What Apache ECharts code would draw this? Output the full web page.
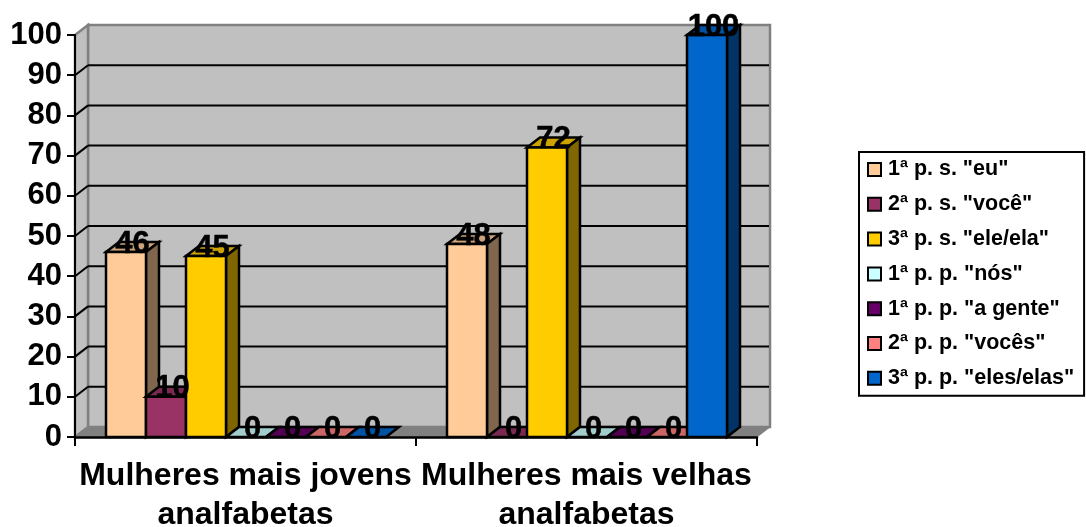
<!DOCTYPE html>
<html><head><meta charset="utf-8">
<style>html,body{margin:0;padding:0;background:#fff}#c{width:1086px;height:527px}</style>
<script src="https://cdn.jsdelivr.net/npm/echarts@6/dist/echarts.min.js"></script>
</head><body><div id="c"></div>
<script>
const categories = ['Mulheres mais jovens\nanalfabetas', 'Mulheres mais velhas\nanalfabetas'];
const seriesNames = ['1ª p. s. "eu"', '2ª p. s. "você"', '3ª p. s. "ele/ela"', '1ª p. p. "nós"', '1ª p. p. "a gente"', '2ª p. p. "vocês"', '3ª p. p. "eles/elas"'];
const eu = [46, 48];
const voce = [10, 0];
const eleEla = [45, 72];
const nos = [0, 0];
const aGente = [0, 0];
const voces = [0, 0];
const elesElas = [0, 100];
const seriesValues = [eu, voce, eleEla, nos, aGente, voces, elesElas];
const colors = ['#FFCC99', '#993366', '#FFCC00', '#CCFFFF', '#660066', '#FF8080', '#0066CC'];
const yTicks = [10, 20, 30, 40, 50, 60, 70, 80, 90];

const DX = 13, DY = -10, BAR_FRAC = 40 / 341, FONT = '"Liberation Sans", Arial, sans-serif';
function shade(hex, f) {
  const n = parseInt(hex.slice(1), 16);
  const c = [n >> 16 & 255, n >> 8 & 255, n & 255].map(v => Math.round(v * f));
  return `rgb(${c.join(',')})`;
}
function poly(points, fill, stroke, w) {
  return { type: 'polygon', shape: { points }, style: { fill, stroke, lineWidth: w, lineJoin: 'miter' } };
}
function line(a, b, stroke, w) {
  return { type: 'line', shape: { x1: a[0], y1: a[1], x2: b[0], y2: b[1] }, style: { stroke, lineWidth: w } };
}
function wallsItem(params, api) {
  const g = params.coordSys, L = g.x, R = g.x + g.width, T = g.y, B = g.y + g.height;
  const children = [
    poly([[L + DX, T + DY], [R + DX, T + DY], [R + DX, B + DY], [L + DX, B + DY]], '#C0C0C0', '#808080', 2.5),
    poly([[L, T], [L + DX, T + DY], [L + DX, B + DY], [L, B]], '#C0C0C0', '#808080', 2.5),
    poly([[L, B], [L + DX, B + DY], [R + DX, B + DY], [R, B]], '#808080', '#808080', 1)
  ];
  yTicks.forEach(v => {
    const y = api.coord([0, v])[1];
    children.push(line([L, y], [L + DX, y + DY], '#000', 2));
    children.push(line([L + DX, y + DY], [R + DX - 1, y + DY], '#000', 2));
  });
  return { type: 'group', children };
}
function barItem(si) {
  return function (params, api) {
    const cat = api.value(0), v = api.value(1);
    const top = api.coord([cat, v]), base = api.coord([cat, 0]);
    const band = api.size([1, 0])[0], w = band * BAR_FRAC;
    const x0 = Math.round(top[0] - 3.5 * w + si * w), x1 = Math.round(x0 + w);
    const yt = top[1], yb = base[1], c = colors[si];
    const children = [
      poly([[x0, yt], [x0 + DX, yt + DY], [x1 + DX, yt + DY], [x1, yt]], shade(c, 0.8), '#000', 2.5)
    ];
    if (v > 0) {
      children.push(poly([[x1, yt], [x1 + DX, yt + DY], [x1 + DX, yb + DY], [x1, yb]], shade(c, 0.5), '#000', 2.5));
      children.push(poly([[x0, yt], [x1, yt], [x1, yb], [x0, yb]], c, '#000', 2.5));
    }
    return { type: 'group', children };
  };
}
function labelItem(params, api) {
  const cat = api.value(0), si = api.value(1), v = api.value(2);
  const top = api.coord([cat, v]);
  const w = api.size([1, 0])[0] * BAR_FRAC;
  return {
    type: 'text',
    style: {
      x: top[0] - 3.5 * w + si * w + w / 2 + 7, y: top[1] - 8, text: String(v),
      fill: '#000', stroke: '#000', lineWidth: 0.5, font: 'bold 31px ' + FONT, textAlign: 'center', textVerticalAlign: 'middle'
    }
  };
}
const labelData = [];
seriesValues.forEach((vals, si) => vals.forEach((v, cat) => labelData.push([cat, si, v])));

const series = [
  { type: 'custom', name: 'walls', z: 1, silent: true, renderItem: wallsItem, data: [[0, 0]], encode: { x: 0, y: 1 } }
];
seriesValues.forEach((vals, si) => series.push({
  type: 'custom', name: seriesNames[si], z: 5 + si, itemStyle: { color: colors[si] },
  renderItem: barItem(si), data: vals.map((v, cat) => [cat, v]), encode: { x: 0, y: 1 }
}));
series.push({ type: 'custom', name: 'labels', z: 20, silent: true, renderItem: labelItem, data: labelData, encode: { x: 0, y: 2 } });

const chart = echarts.init(document.getElementById('c'), null, { renderer: 'canvas' });
chart.setOption({
  animation: false,
  backgroundColor: '#fff',
  grid: { left: 75, top: 35, width: 682, height: 402, outerBoundsMode: 'none' },
  legend: {
    orient: 'vertical', left: 859, top: 152,
    backgroundColor: '#fff', borderColor: '#000', borderWidth: 2,
    padding: [6.5, 10, 6.5, 8], itemWidth: 13, itemHeight: 13, itemGap: 12.8, icon: 'rect',
    selectedMode: false,
    textStyle: { fontFamily: FONT, fontWeight: 'bold', fontSize: 21.5, color: '#000', lineHeight: 20, padding: [0, 0, 0, 2] },
    data: seriesNames.map((name, i) => ({ name, icon: 'rect', itemStyle: { color: colors[i], borderColor: '#000', borderWidth: 2 } }))
  },
  xAxis: {
    type: 'category', data: categories, z: 3,
    axisLine: { show: true, lineStyle: { color: '#000', width: 2.5 } },
    axisTick: { show: true, length: 9, lineStyle: { color: '#000', width: 2 } },
    axisLabel: { interval: 0, margin: 20, hideOverlap: false, color: '#000', fontFamily: FONT, fontWeight: 'bold', fontSize: 32, lineHeight: 39 }
  },
  yAxis: {
    type: 'value', min: 0, max: 100, interval: 10, z: 3,
    axisLine: { show: true, lineStyle: { color: '#000', width: 2 } },
    axisTick: { show: true, length: 8, lineStyle: { color: '#000', width: 2 } },
    splitLine: { show: false },
    axisLabel: { margin: 13, color: '#000', fontFamily: FONT, fontWeight: 'bold', fontSize: 31, padding: [6, 0, 0, 0] }
  },
  series
});
</script></body></html>
